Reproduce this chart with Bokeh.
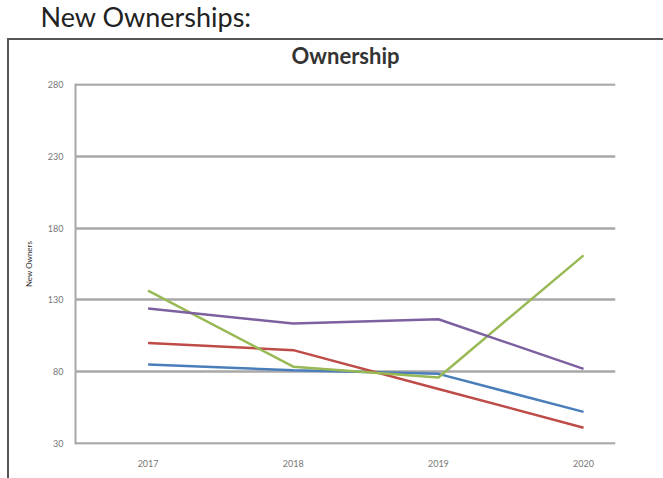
from bokeh.plotting import figure
from bokeh.models import Range1d, FixedTicker, Title
from bokeh.embed import file_html
from bokeh.resources import INLINE

years = [2017, 2018, 2019, 2020]
blue_vals = [85, 81, 78.5, 52]
red_vals = [100, 95, 68, 41]
green_vals = [136.5, 83.5, 76, 161]
purple_vals = [124, 113.5, 116.5, 82]
y_ticks = [30, 80, 130, 180, 230, 280]

p = figure(width=663, height=478, output_backend="svg", toolbar_location=None,
           title=None,
           x_range=Range1d(2016.5, 2020.22), y_range=Range1d(29.3, 280.7),
           min_border_left=75, min_border_right=48, min_border_top=83, min_border_bottom=34)
p.outline_line_color = None
p.background_fill_color = "white"
p.border_fill_color = None
p.styles = {
    "background-color": "white",
    "background-image": "linear-gradient(#555555, #555555), linear-gradient(#555555, #555555)",
    "background-size": "2px 460px, 670px 2px",
    "background-position": "7px 38px, 7px 38px",
    "background-repeat": "no-repeat",
}

for vals, col in [(blue_vals, "#4a7ebb"), (red_vals, "#be4b48"),
                  (green_vals, "#98b954"), (purple_vals, "#7d60a0")]:
    p.line(years, vals, line_color=col, line_width=2.5)

p.xgrid.grid_line_color = None
p.ygrid.grid_line_color = "#a8a8a8"
p.ygrid.grid_line_width = 2.5
p.yaxis.ticker = FixedTicker(ticks=y_ticks)
p.xaxis.ticker = FixedTicker(ticks=years)

p.yaxis.axis_line_color = "#a8a8a8"
p.yaxis.axis_line_width = 2
p.yaxis.major_tick_line_color = None
p.yaxis.minor_tick_line_color = None
p.yaxis.major_label_text_font = "Lato"
p.yaxis.major_label_text_font_size = "9px"
p.yaxis.major_label_text_color = "#777777"
p.yaxis.major_label_standoff = 6
p.yaxis.axis_label = "New Owners"
p.yaxis.axis_label_text_font = "Lato"
p.yaxis.axis_label_text_font_size = "8px"
p.yaxis.axis_label_text_font_style = "normal"
p.yaxis.axis_label_text_color = "#333333"
p.yaxis.axis_label_standoff = 11

p.xaxis.axis_line_color = None
p.xaxis.major_tick_line_color = None
p.xaxis.minor_tick_line_color = None
p.xaxis.major_label_text_font = "Lato"
p.xaxis.major_label_text_font_size = "9px"
p.xaxis.major_label_text_color = "#777777"
p.xaxis.major_label_standoff = 9

p.add_layout(Title(text="Ownership", align="center", text_font="Lato",
                   text_font_size="22px", text_font_style="bold",
                   text_color="#333333", standoff=30), "above")
p.add_layout(Title(text="New Ownerships:", align="left", offset=-35, text_font="Lato",
                   text_font_size="27px", text_font_style="normal",
                   text_color="#222222", standoff=-16), "above")

open("out.html", "w").write(file_html(p, INLINE))
